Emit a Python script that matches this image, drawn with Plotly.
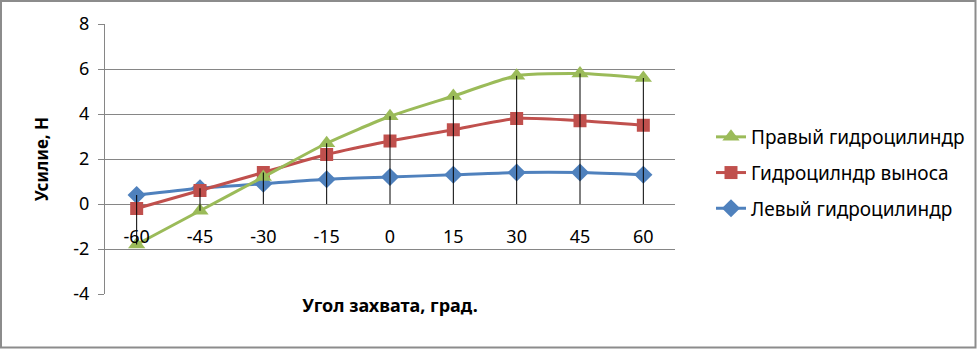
import plotly.graph_objects as go

categories = ["-60", "-45", "-30", "-15", "0", "15", "30", "45", "60"]
left_cyl = [0.4, 0.7, 0.9, 1.1, 1.2, 1.3, 1.4, 1.4, 1.3]
reach_cyl = [-0.2, 0.6, 1.4, 2.2, 2.8, 3.3, 3.8, 3.7, 3.5]
right_cyl = [-1.8, -0.3, 1.2, 2.7, 3.9, 4.8, 5.7, 5.8, 5.6]
y_ticks = [-4, -2, 0, 2, 4, 6, 8]

W, H = 977, 349
ML, MR, MT, MB = 105, 302, 24, 55
PW, PH = W - ML - MR, H - MT - MB

FONT = "Noto Sans"
GRID = "#868686"
FS = 18

fig = go.Figure()

series = [
    ("Левый гидроцилиндр", left_cyl, "#4F81BD", "diamond", 14, 3),
    ("Гидроцилндр выноса", reach_cyl, "#C0504D", "square", 13, 2),
    ("Правый гидроцилиндр", right_cyl, "#9BBB59", "triangle-up", 15, 1),
]
for i, (name, vals, col, sym, sz, rank) in enumerate(series):
    fig.add_trace(go.Scatter(
        x=categories, y=vals, name=name, mode="lines+markers",
        line=dict(color=col, width=3, shape="spline", smoothing=0.6),
        marker=dict(color=col, symbol=sym, size=sz),
        legendgroup=f"g{i}", legendrank=rank,
    ))

# drop lines
dx, dy = [], []
for j, c in enumerate(categories):
    vals = [left_cyl[j], reach_cyl[j], right_cyl[j]]
    dx += [c, c, None]
    dy += [max(vals), min(min(vals), 0), None]
fig.add_trace(go.Scatter(x=dx, y=dy, mode="lines", line=dict(color="black", width=1),
                         showlegend=False, hoverinfo="skip"))

def px_x(p):
    return (p - ML) / PW

def px_y(p):
    return 1 - (p - MT) / PH

fig.add_shape(type="rect", xref="paper", yref="paper",
              x0=px_x(1), x1=px_x(975.5), y0=px_y(347.5), y1=px_y(1),
              line=dict(color="#8C8C8C", width=2), fillcolor="rgba(0,0,0,0)", layer="below")

fig.update_layout(
    width=W, height=H,
    margin=dict(l=ML, r=MR, t=MT, b=MB, pad=0, autoexpand=False),
    paper_bgcolor="white", plot_bgcolor="white",
    font=dict(family=FONT, size=FS, color="black"),
    showlegend=True,
    legend=dict(x=px_x(711), xanchor="left", y=px_y(173), yanchor="middle",
                traceorder="grouped", tracegroupgap=8,
                font=dict(family=FONT, size=19), bgcolor="rgba(0,0,0,0)"),
    xaxis=dict(type="category", range=[-0.5, 8.5], anchor="free",
               position=(0 - (-4)) / (8 - (-4)), showgrid=False, showline=False,
               zeroline=False, ticks="", ticklabelstandoff=20,
               tickfont=dict(family=FONT, size=FS),
               title=dict(text="<b>Угол захвата, град.</b>", standoff=52,
                          font=dict(family=FONT, size=18))),
    yaxis=dict(range=[-4, 8], tickvals=y_ticks, ticktext=[str(v) for v in y_ticks],
               showgrid=True, gridcolor=GRID, gridwidth=1,
               zeroline=False, showline=True, linecolor=GRID, linewidth=1,
               ticks="outside", ticklen=6, tickcolor=GRID, ticklabelstandoff=5,
               tickfont=dict(family=FONT, size=FS),
               title=dict(text="<b>Усилие, Н</b>", standoff=20,
                          font=dict(family=FONT, size=17))),
)

fig.write_html("out.html")
